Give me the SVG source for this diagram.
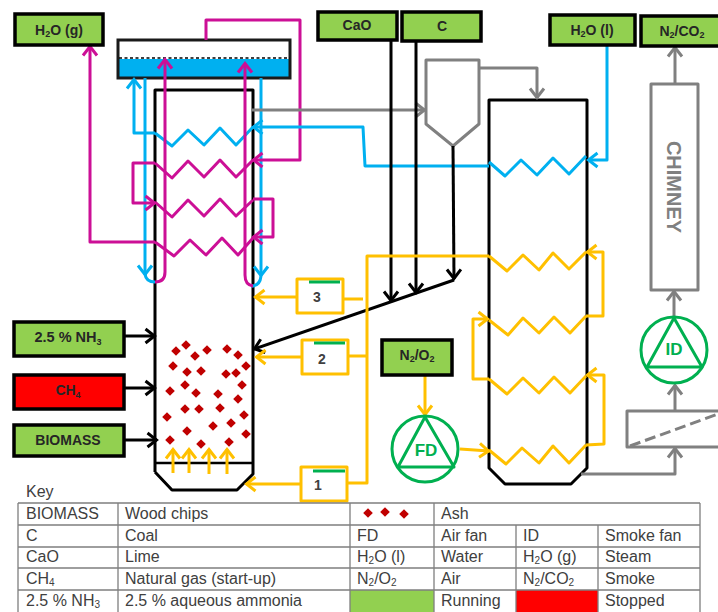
<svg xmlns="http://www.w3.org/2000/svg" width="718" height="612" viewBox="0 0 718 612">
<style>
text{font-family:"Liberation Sans",Arial,sans-serif}
.l{fill:none;stroke-width:3;stroke-linejoin:round}
.bk{stroke:#000}.bl{stroke:#00b0f0}.mg{stroke:#cc0f96}.yl{stroke:#ffc000}.gy{stroke:#808080}.gn{stroke:#00b050}
.a-bk{marker-end:url(#ak)}.a-bl{marker-end:url(#ab)}.a-mg{marker-end:url(#am)}.a-yl{marker-end:url(#ay)}.a-gy{marker-end:url(#ag)}
.box{stroke:#000;stroke-width:3.5}
.g{fill:#92d050}.r{fill:#ff0000}
.bt{font-size:14px;font-weight:bold;fill:#262626;text-anchor:middle}
.nt{font-size:14px;font-weight:bold;fill:#404040;text-anchor:middle}
.fan{font-size:17px;font-weight:bold;fill:#00b050;text-anchor:middle}
.k{font-size:16px;fill:#404040}
.cell{stroke:#7f7f7f;stroke-width:1.3;fill:none}
.d{fill:#c00000}
</style>
<defs>
<marker id="ak" markerUnits="userSpaceOnUse" markerWidth="20" markerHeight="20" refX="14" refY="10" orient="auto"><path d="M4.5 3L13.5 10L4.5 17" fill="none" stroke="#000" stroke-width="3"/></marker>
<marker id="ab" markerUnits="userSpaceOnUse" markerWidth="20" markerHeight="20" refX="14" refY="10" orient="auto"><path d="M4.5 3L13.5 10L4.5 17" fill="none" stroke="#00b0f0" stroke-width="3"/></marker>
<marker id="am" markerUnits="userSpaceOnUse" markerWidth="20" markerHeight="20" refX="14" refY="10" orient="auto"><path d="M4.5 3L13.5 10L4.5 17" fill="none" stroke="#cc0f96" stroke-width="3"/></marker>
<marker id="ay" markerUnits="userSpaceOnUse" markerWidth="20" markerHeight="20" refX="14" refY="10" orient="auto"><path d="M4.5 3L13.5 10L4.5 17" fill="none" stroke="#ffc000" stroke-width="3"/></marker>
<marker id="ag" markerUnits="userSpaceOnUse" markerWidth="20" markerHeight="20" refX="14" refY="10" orient="auto"><path d="M4.5 3L13.5 10L4.5 17" fill="none" stroke="#808080" stroke-width="3"/></marker>
<path id="dm" d="M0 -4.8L4.8 0L0 4.8L-4.8 0Z"/>
</defs>

<g id="tank">
<rect x="118" y="59" width="172" height="19" fill="#00b0f0"/>
<rect x="118" y="40" width="172" height="38" fill="none" stroke="#1a1a1a" stroke-width="3"/>
<path d="M119 58H290" stroke="#000" stroke-width="1.6" stroke-dasharray="3 2.5"/>
</g>
<g id="furnace">
<path class="l bk" d="M155 472V90H253V474L237 490H172L155 472"/>
<path class="l bk" style="stroke-width:2.5" d="M155 463H253"/></g>
<g id="boiler"><path class="l bk" d="M489 468V100H587V468L571 484H505Z"/></g>
<g id="cyclone"><path class="l gy" d="M426 60H479V124L453 146L426 124Z"/></g>
<g id="chimney"><rect x="651" y="84" width="47" height="206" class="l gy"/>
<text transform="translate(667,187) rotate(90)" font-size="20" font-weight="bold" fill="#808080" text-anchor="middle">CHIMNEY</text></g>
<g id="preheater"><path class="l gy" d="M718 411H627V447H718"/><path d="M630 446L718 414" fill="none" stroke="#808080" stroke-width="3" stroke-dasharray="11 5"/></g>

<g id="connectors">
<path class="l bl" d="M155 133L172 146L188 130L204 145L220 128L236 145L253 127"/>
<path class="l mg" d="M155 163L172 178L188 161L204 177L220 160L236 177L253 160"/>
<path class="l mg" d="M155 202L172 217L188 200L204 216L220 199L236 216L253 200"/>
<path class="l mg" d="M155 242L174 256L190 240L206 255L222 238L238 255L253 238"/>
<path class="l bl a-bl" d="M155 133H134V79"/>
<path class="l bl a-bl" d="M145 78V275"/>
<path class="l bl a-bl" d="M261 78V276"/>
<path class="l bl" d="M145 274Q146 282 155 282M261 276Q260 286 251 286"/>
<path class="l mg a-mg" d="M155 282Q165 282 165 272V59"/>
<path class="l mg a-mg" d="M253 286Q245 285 245 275V63"/>
<path class="l mg a-mg" d="M206 40V20H300V160H253"/>
<path class="l mg a-mg" d="M155 163H133V203H155"/>
<path class="l mg a-mg" d="M253 199H273V237H253"/>
<path class="l mg a-mg" d="M155 242H90V46"/>
<path class="l gy a-gy" d="M251 110H425"/>
<path class="l gy a-gy" d="M479 68H537V98"/>
<path class="l gy a-gy" d="M675 84V47"/>
<path class="l gy a-gy" d="M674 318V291"/>
<path class="l gy a-gy" d="M675 411V385"/>
<path class="l gy a-gy" d="M581 474H675V448"/>
<path class="l bl a-bl" d="M489 166H365L363 127H253"/>
<path class="l bl" d="M489 162L505 176L521 160L537 175L553 158L569 174L586 156"/>
<path class="l bl a-bl" d="M607 46V160H588"/>
<path class="l bk a-bk" d="M391 40V301"/>
<path class="l bk a-bk" d="M416 40V293"/>
<path class="l bk a-bk" d="M453 146L454 279"/>
<path class="l bk a-bk" d="M454 280L254 349"/>
<path class="l bk a-bk" d="M124 336H155"/>
<path class="l bk a-bk" d="M124 388H155"/>
<path class="l bk a-bk" d="M124 440H157"/>
<path class="l yl" d="M489 256L507 271L523 255L539 270L553 253L569 269L586 252"/>
<path class="l yl" d="M489 320L508 335L523 318L539 333L554 317L570 333L586 316"/>
<path class="l yl" d="M489 379L507 394L523 378L539 393L554 377L570 393L586 376"/>
<path class="l yl" d="M489 450L506 464L522 448L539 463L553 446L569 463L586 445"/>
<path class="l yl" d="M489 256H367V483H346M367 356H348M363 299H343"/>
<path class="l yl a-yl" d="M586 316H603V252H587"/>
<path class="l yl a-yl" d="M489 379H473V319H488"/>
<path class="l yl a-yl" d="M586 445L604 444V375H587"/>
<path class="l yl a-yl" d="M425 375V415"/>
<path class="l yl a-yl" d="M460 449L489 451"/>
<path class="l yl a-yl" d="M296 297H255"/>
<path class="l yl a-yl" d="M301 357H256"/>
<path class="l yl a-yl" d="M300 484H246"/>
<path class="l yl a-yl" d="M173 473V449"/>
<path class="l yl a-yl" d="M189 473V449"/>
<path class="l yl a-yl" d="M209 474V449"/>
<path class="l yl a-yl" d="M227 474V449"/>
</g>

<g id="ash" class="d">
<use href="#dm" x="186" y="345"/><use href="#dm" x="176" y="351"/><use href="#dm" x="195" y="356"/><use href="#dm" x="207" y="350"/><use href="#dm" x="227" y="349"/><use href="#dm" x="238" y="355"/><use href="#dm" x="246" y="366"/><use href="#dm" x="173" y="366"/><use href="#dm" x="187" y="372"/><use href="#dm" x="201" y="371"/><use href="#dm" x="226" y="374"/><use href="#dm" x="236" y="373"/><use href="#dm" x="242" y="385"/><use href="#dm" x="185" y="385"/><use href="#dm" x="170" y="391"/><use href="#dm" x="196" y="393"/><use href="#dm" x="218" y="394"/><use href="#dm" x="238" y="399"/><use href="#dm" x="185" y="409"/><use href="#dm" x="199" y="409"/><use href="#dm" x="220" y="408"/><use href="#dm" x="167" y="417"/><use href="#dm" x="244" y="415"/><use href="#dm" x="231" y="423"/><use href="#dm" x="213" y="426"/><use href="#dm" x="187" y="431"/><use href="#dm" x="246" y="434"/><use href="#dm" x="170" y="440"/><use href="#dm" x="201" y="444"/><use href="#dm" x="229" y="442"/>
</g>

<g id="n-h2og"><rect class="box g" x="15" y="14" width="88" height="31"/><text class="bt" x="59" y="35">H<tspan font-size="9" dy="2">2</tspan><tspan dy="-2">O (g)</tspan></text></g>
<g id="n-cao"><rect class="box g" x="318" y="12" width="79" height="28"/><text class="bt" x="357" y="30">CaO</text></g>
<g id="n-c"><rect class="box g" x="402" y="12" width="79" height="29"/><text class="bt" x="442" y="31">C</text></g>
<g id="n-h2ol"><rect class="box g" x="550" y="15" width="85" height="30"/><text class="bt" x="592" y="35">H<tspan font-size="9" dy="2">2</tspan><tspan dy="-2">O (l)</tspan></text></g>
<g id="n-stack"><rect class="box g" x="641" y="16" width="90" height="30"/><text class="bt" x="682" y="36">N<tspan font-size="9" dy="2">2</tspan><tspan dy="-2">/CO</tspan><tspan font-size="9" dy="2">2</tspan></text></g>
<g id="n-nh3"><rect class="box g" x="14" y="322" width="110" height="34"/><text class="bt" x="68" y="342" style="font-size:14.5px">2.5 % NH<tspan font-size="9" dy="3">3</tspan></text></g>
<g id="n-ch4"><rect class="box r" x="14" y="375" width="110" height="34"/><text class="bt" x="68" y="395">CH<tspan font-size="9" dy="3">4</tspan></text></g>
<g id="n-bio"><rect class="box g" x="14" y="425" width="110" height="31"/><text class="bt" x="68" y="445" style="font-size:14px">BIOMASS</text></g>
<g id="n-air"><rect class="box g" x="382" y="340" width="70" height="35"/><text class="bt" x="417" y="360">N<tspan font-size="9" dy="2">2</tspan><tspan dy="-2">/O</tspan><tspan font-size="9" dy="2">2</tspan></text></g>

<g id="fd"><circle class="l gn" cx="425" cy="449" r="33"/><path class="l gn" d="M425 417L398 467H454Z"/><text class="fan" x="426" y="456">FD</text></g>
<g id="id"><circle class="l gn" cx="674" cy="350" r="33"/><path class="l gn" d="M674 318L647 367H702Z"/><text class="fan" x="674" y="355">ID</text></g>

<g id="v3"><rect class="l yl" x="297" y="279" width="46" height="34"/><path class="l gn" d="M309 282H340"/><text class="nt" x="317" y="302">3</text></g>
<g id="v2"><rect class="l yl" x="302" y="340" width="46" height="34"/><path class="l gn" d="M314 343H345"/><text class="nt" x="322" y="364">2</text></g>
<g id="v1"><rect class="l yl" x="301" y="467" width="46" height="34"/><path class="l gn" d="M313 471H345"/><text class="nt" x="318" y="490">1</text></g>

<g id="key">
<text class="k" x="26" y="497">Key</text>
<rect x="350" y="590" width="84" height="22" class="g"/><rect x="516" y="590" width="82" height="22" class="r"/>
<path class="cell" d="M18 503H700M18 525H700M18 547H700M18 568H700M18 590H700M18 503V612M118 503V612M350 503V612M434 503V612M516 525V612M598 525V612M700 503V612"/>
<g class="d"><use href="#dm" x="368" y="513"/><use href="#dm" x="385" y="512"/><use href="#dm" x="404" y="514"/></g>
<g class="k">
<text x="26" y="519">BIOMASS</text><text x="125" y="519">Wood chips</text><text x="441" y="519">Ash</text>
<text x="26" y="541">C</text><text x="125" y="541">Coal</text><text x="357" y="541">FD</text><text x="441" y="541">Air fan</text><text x="523" y="541">ID</text><text x="605" y="541">Smoke fan</text>
<text x="26" y="562">CaO</text><text x="125" y="562">Lime</text><text x="357" y="562">H<tspan font-size="10" dy="2">2</tspan><tspan dy="-2">O (l)</tspan></text><text x="441" y="562">Water</text><text x="523" y="562">H<tspan font-size="10" dy="2">2</tspan><tspan dy="-2">O (g)</tspan></text><text x="605" y="562">Steam</text>
<text x="26" y="584">CH<tspan font-size="10" dy="2">4</tspan></text><text x="125" y="584">Natural gas (start-up)</text><text x="357" y="584">N<tspan font-size="10" dy="2">2</tspan><tspan dy="-2">/O</tspan><tspan font-size="10" dy="2">2</tspan></text><text x="441" y="584">Air</text><text x="523" y="584">N<tspan font-size="10" dy="2">2</tspan><tspan dy="-2">/CO</tspan><tspan font-size="10" dy="2">2</tspan></text><text x="605" y="584">Smoke</text>
<text x="26" y="606">2.5 % NH<tspan font-size="10" dy="2">3</tspan></text><text x="125" y="606">2.5 % aqueous ammonia</text><text x="441" y="606">Running</text><text x="605" y="606">Stopped</text>
</g>
</g>
</svg>
